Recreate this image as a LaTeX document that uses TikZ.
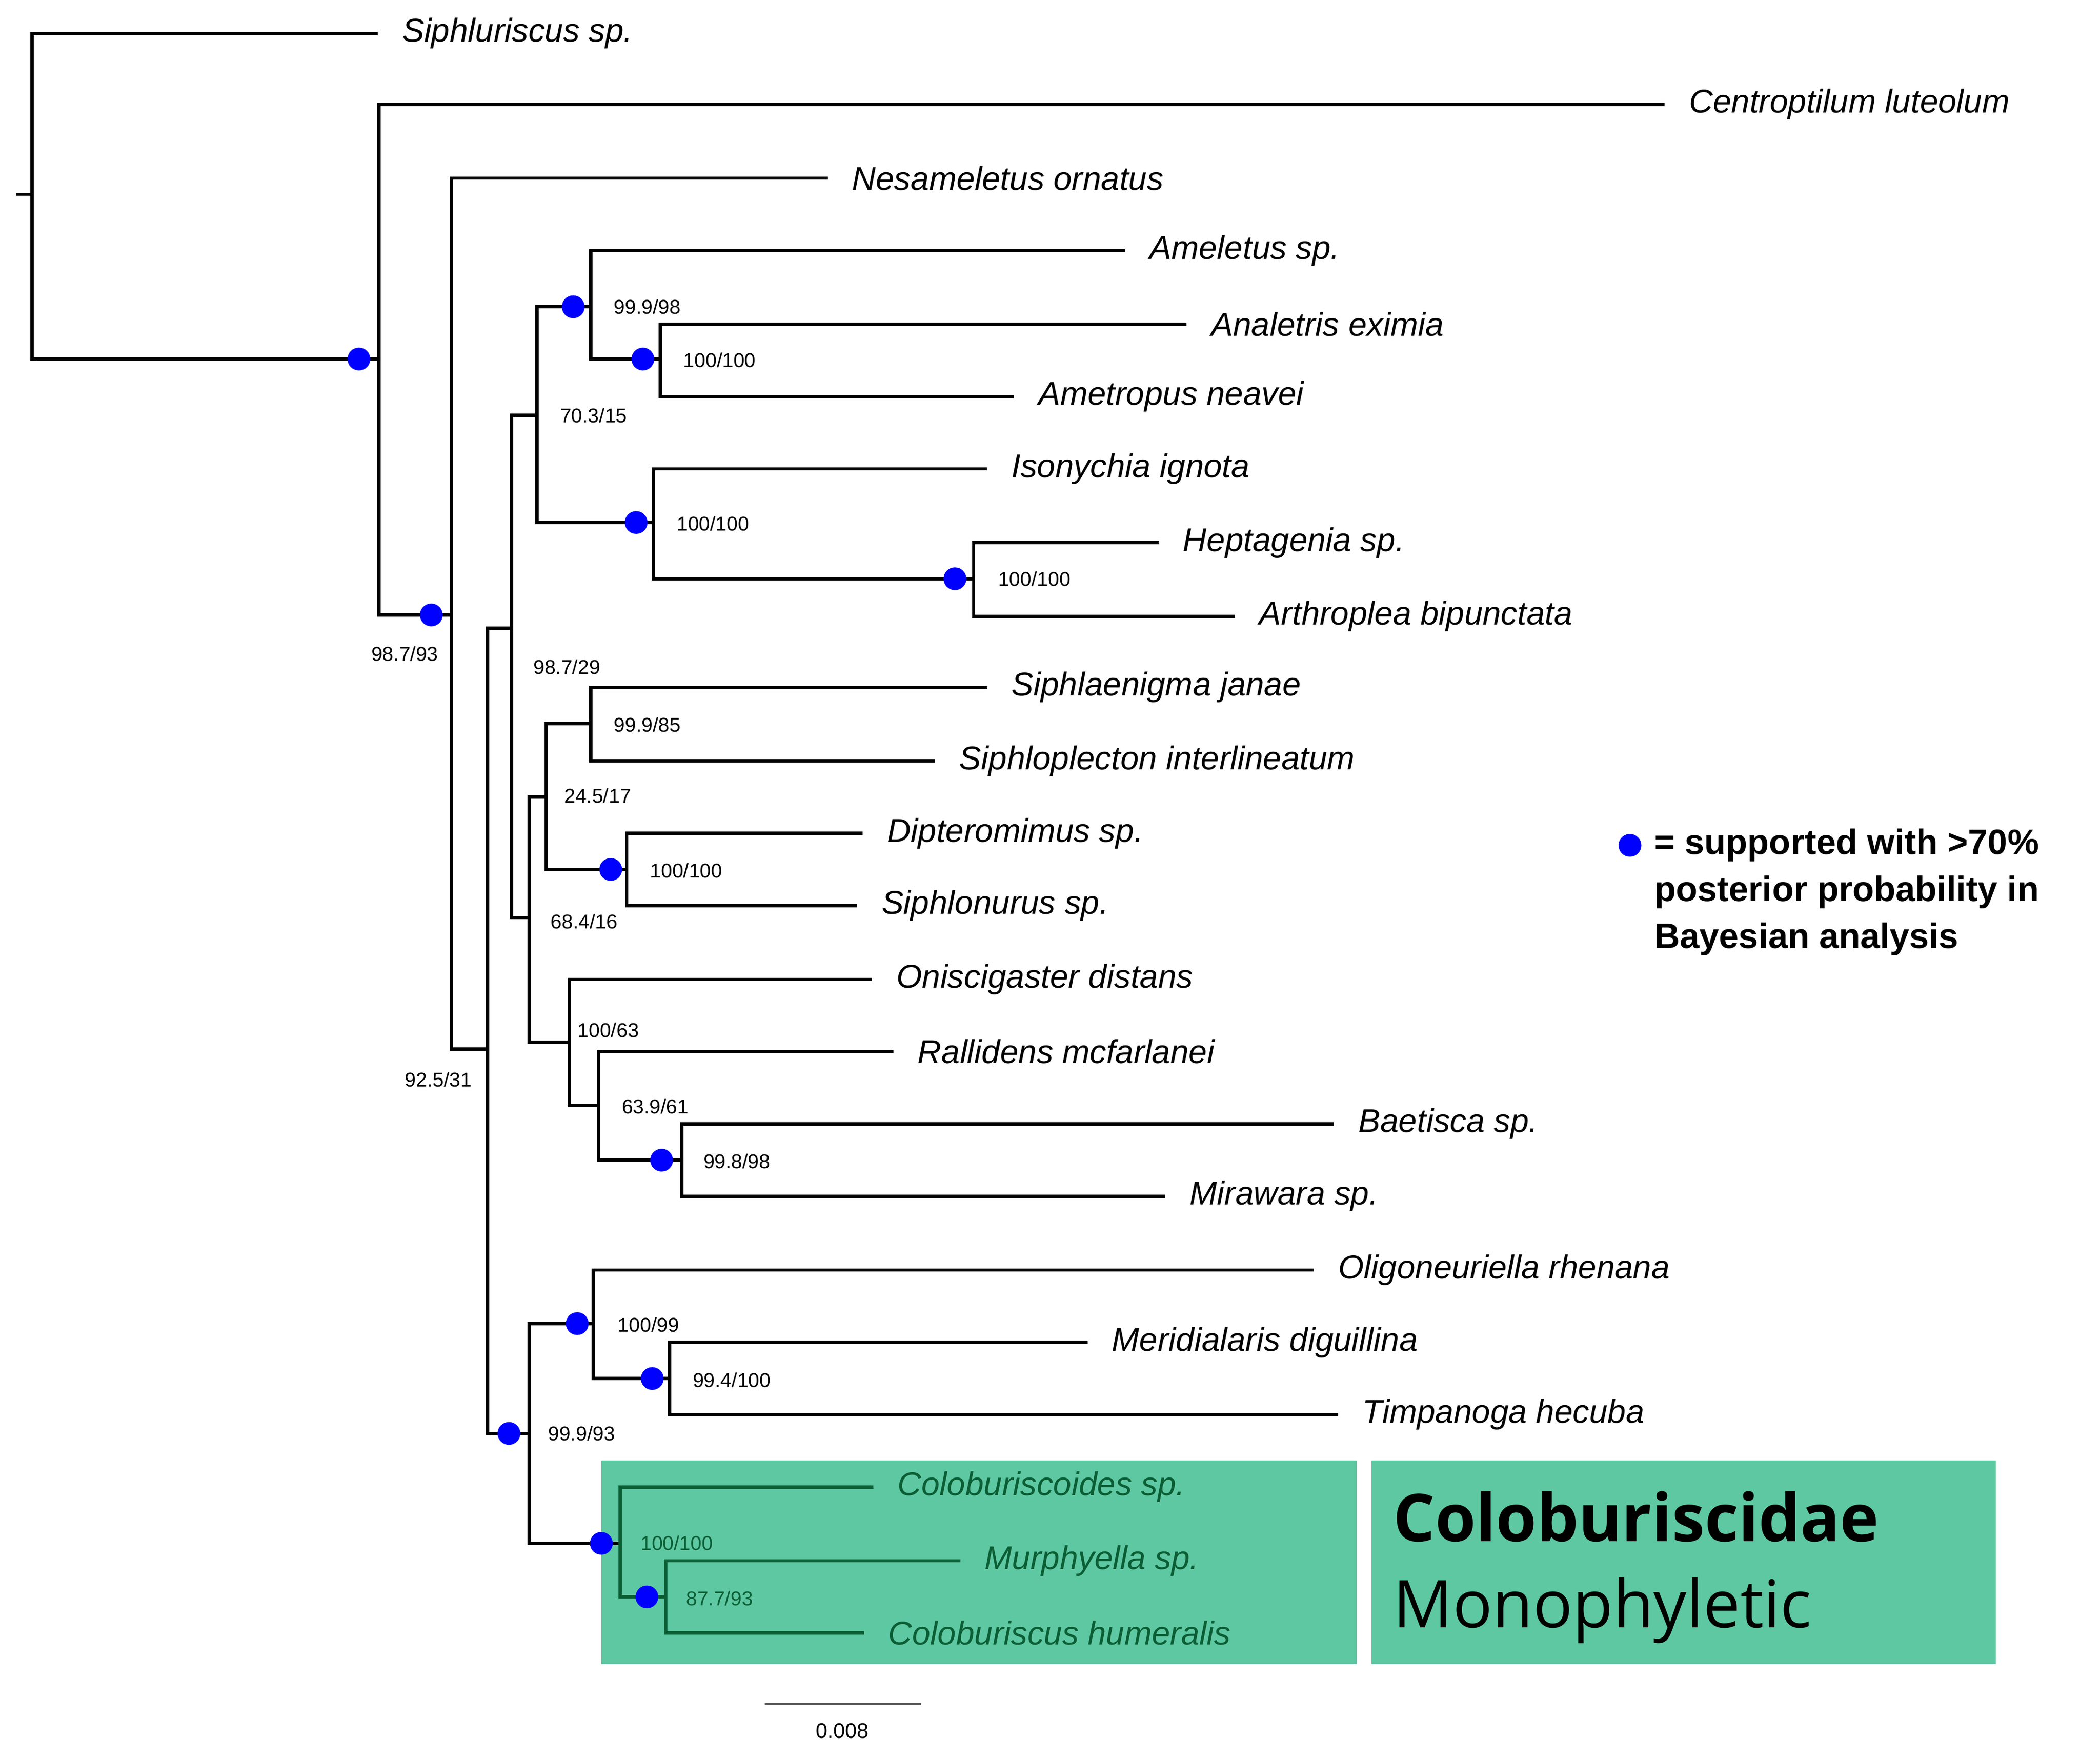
\documentclass[tikz,border=0pt]{standalone}
\usepackage{fontspec}
\setmainfont{Liberation Sans}
\newfontfamily\osans{Open Sans}
\definecolor{boxg}{HTML}{5EC8A3}
\definecolor{dkg}{HTML}{0B5E34}
\begin{document}
\begin{tikzpicture}[x=0.02cm,y=-0.02cm,
 br/.style={line width=1.4pt},
 leaf/.style={anchor=west,inner xsep=0.36cm,inner ysep=0pt,font=\fontsize{14}{16}\selectfont\itshape},
 sup/.style={anchor=west,inner sep=0pt,font=\fontsize{8.5}{10}\selectfont},
 dot/.style={circle,fill=blue,inner sep=0pt,minimum size=0.34cm}]
\useasboundingbox (0,0) rectangle (1568,1312);
\fill[boxg] (449,1090) rectangle (1013,1242);
\fill[boxg] (1024,1090) rectangle (1490,1242);
% internal node coordinates
\coordinate (stub) at (12,145);
\coordinate (R0) at (24,145);
\coordinate (A) at (283,268);
\coordinate (B) at (337,459);
\coordinate (C) at (364,783);
\coordinate (D) at (382,469);
\coordinate (F) at (401,310);
\coordinate (H) at (441,229);
\coordinate (I) at (493,268);
\coordinate (J) at (488,390);
\coordinate (K) at (727,432);
\coordinate (G) at (395,685);
\coordinate (L) at (408,595);
\coordinate (M) at (441,540);
\coordinate (P) at (468,649);
\coordinate (N) at (425,778);
\coordinate (O) at (447,825);
\coordinate (Q) at (509,866);
\coordinate (E) at (395,1070);
\coordinate (R) at (443,988);
\coordinate (S) at (500,1029);
\coordinate (T) at (463,1152);
\coordinate (U) at (497,1192);
% leaves
\node[leaf] (l1) at (282,25) {Siphluriscus sp.};
\node[leaf] (l2) at (1243,78) {Centroptilum luteolum};
\node[leaf] (l3) at (618,133) {Nesameletus ornatus};
\node[leaf] (l4) at (840,187) {Ameletus sp.};
\node[leaf] (l5) at (886,242) {Analetris eximia};
\node[leaf] (l6) at (757,296) {Ametropus neavei};
\node[leaf] (l7) at (737,350) {Isonychia ignota};
\node[leaf] (l8) at (865,405) {Heptagenia sp.};
\node[leaf] (l9) at (922,460) {Arthroplea bipunctata};
\node[leaf] (l10) at (737,513) {Siphlaenigma janae};
\node[leaf] (l11) at (698,568) {Siphloplecton interlineatum};
\node[leaf] (l12) at (644,622) {Dipteromimus sp.};
\node[leaf] (l13) at (640,676) {Siphlonurus sp.};
\node[leaf] (l14) at (651,731) {Oniscigaster distans};
\node[leaf] (l15) at (667,785) {Rallidens mcfarlanei};
\node[leaf] (l16) at (996,839) {Baetisca sp.};
\node[leaf] (l17) at (870,893) {Mirawara sp.};
\node[leaf] (l18) at (981,948) {Oligoneuriella rhenana};
\node[leaf] (l19) at (812,1002) {Meridialaris diguillina};
\node[leaf] (l20) at (999,1056) {Timpanoga hecuba};
\node[leaf,text=dkg] (l21) at (652,1110) {Coloburiscoides sp.};
\node[leaf,text=dkg] (l22) at (717,1165) {Murphyella sp.};
\node[leaf,text=dkg] (l23) at (645,1219) {Coloburiscus humeralis};
% branches
\draw[br] (stub) -- (R0);
\draw[br] (R0) |- (l1.west);
\draw[br] (R0) |- (A);
\draw[br] (A) |- (l2.west);
\draw[br] (A) |- (B);
\draw[br] (B) |- (l3.west);
\draw[br] (B) |- (C);
\draw[br] (C) |- (D);
\draw[br] (C) |- (E);
\draw[br] (D) |- (F);
\draw[br] (D) |- (G);
\draw[br] (F) |- (H);
\draw[br] (F) |- (J);
\draw[br] (H) |- (l4.west);
\draw[br] (H) |- (I);
\draw[br] (I) |- (l5.west);
\draw[br] (I) |- (l6.west);
\draw[br] (J) |- (l7.west);
\draw[br] (J) |- (K);
\draw[br] (K) |- (l8.west);
\draw[br] (K) |- (l9.west);
\draw[br] (G) |- (L);
\draw[br] (G) |- (N);
\draw[br] (L) |- (M);
\draw[br] (L) |- (P);
\draw[br] (M) |- (l10.west);
\draw[br] (M) |- (l11.west);
\draw[br] (P) |- (l12.west);
\draw[br] (P) |- (l13.west);
\draw[br] (N) |- (l14.west);
\draw[br] (N) |- (O);
\draw[br] (O) |- (l15.west);
\draw[br] (O) |- (Q);
\draw[br] (Q) |- (l16.west);
\draw[br] (Q) |- (l17.west);
\draw[br] (E) |- (R);
\draw[br] (E) |- (T);
\draw[br] (R) |- (l18.west);
\draw[br] (R) |- (S);
\draw[br] (S) |- (l19.west);
\draw[br] (S) |- (l20.west);
\draw[br,dkg] (T) |- (l21.west);
\draw[br,dkg] (T) |- (U);
\draw[br,dkg] (U) |- (l22.west);
\draw[br,dkg] (U) |- (l23.west);
% dots
\node[dot] (dA) at (268,268) {};
\node[dot] (dB) at (322,459) {};
\node[dot] (dH) at (428,229) {};
\node[dot] (dI) at (480,268) {};
\node[dot] (dJ) at (475,390) {};
\node[dot] (dK) at (713,432) {};
\node[dot] (dP) at (456,649) {};
\node[dot] (dQ) at (494,866) {};
\node[dot] (dR) at (431,988) {};
\node[dot] (dS) at (487,1029) {};
\node[dot] (dE) at (380,1070) {};
\node[dot] (dT) at (449,1152) {};
\node[dot] (dU) at (483,1192) {};
% support values
\node[sup] (sB) at (277,488) {98.7/93};
\node[sup] (sC) at (302,806) {92.5/31};
\node[sup] (sH) at (458,229) {99.9/98};
\node[sup] (sI) at (510,269) {100/100};
\node[sup] (sF) at (418,310) {70.3/15};
\node[sup] (sJ) at (505,391) {100/100};
\node[sup] (sK) at (745,432) {100/100};
\node[sup] (sD) at (398,498) {98.7/29};
\node[sup] (sM) at (458,541) {99.9/85};
\node[sup] (sL) at (421,594) {24.5/17};
\node[sup] (sP) at (485,650) {100/100};
\node[sup] (sG) at (411,688) {68.4/16};
\node[sup] (sN) at (431,769) {100/63};
\node[sup] (sO) at (464,826) {63.9/61};
\node[sup] (sQ) at (525,867) {99.8/98};
\node[sup] (sR) at (461,989) {100/99};
\node[sup] (sS) at (517,1030) {99.4/100};
\node[sup] (sE) at (409,1070) {99.9/93};
\node[sup,text=dkg] (sT) at (478,1152) {100/100};
\node[sup,text=dkg] (sU) at (512,1193) {87.7/93};
% scale bar
\coordinate (sb1) at (571,1272);
\coordinate (sb2) at (688,1272);
\draw[line width=1pt,gray!70!black] (sb1) -- (sb2);
\node[font=\fontsize{9}{10}\selectfont] (sbl) at (629,1292) {0.008};
% legend
\node[dot] (ldot) at (1217,631) {};
\node[anchor=west,inner sep=0pt,align=left,font=\fontsize{15}{20}\selectfont\bfseries] (leg) at (1235,666) {= supported with >70\%\\posterior probability in\\Bayesian analysis};
\node[anchor=west,inner sep=0pt,font=\osans\fontsize{28}{30}\selectfont\bfseries] (cb1) at (1040,1132) {Coloburiscidae};
\node[anchor=west,inner sep=0pt,font=\osans\fontsize{28}{30}\selectfont] (cb2) at (1040,1202) {Monophyletic};
\end{tikzpicture}
\end{document}
